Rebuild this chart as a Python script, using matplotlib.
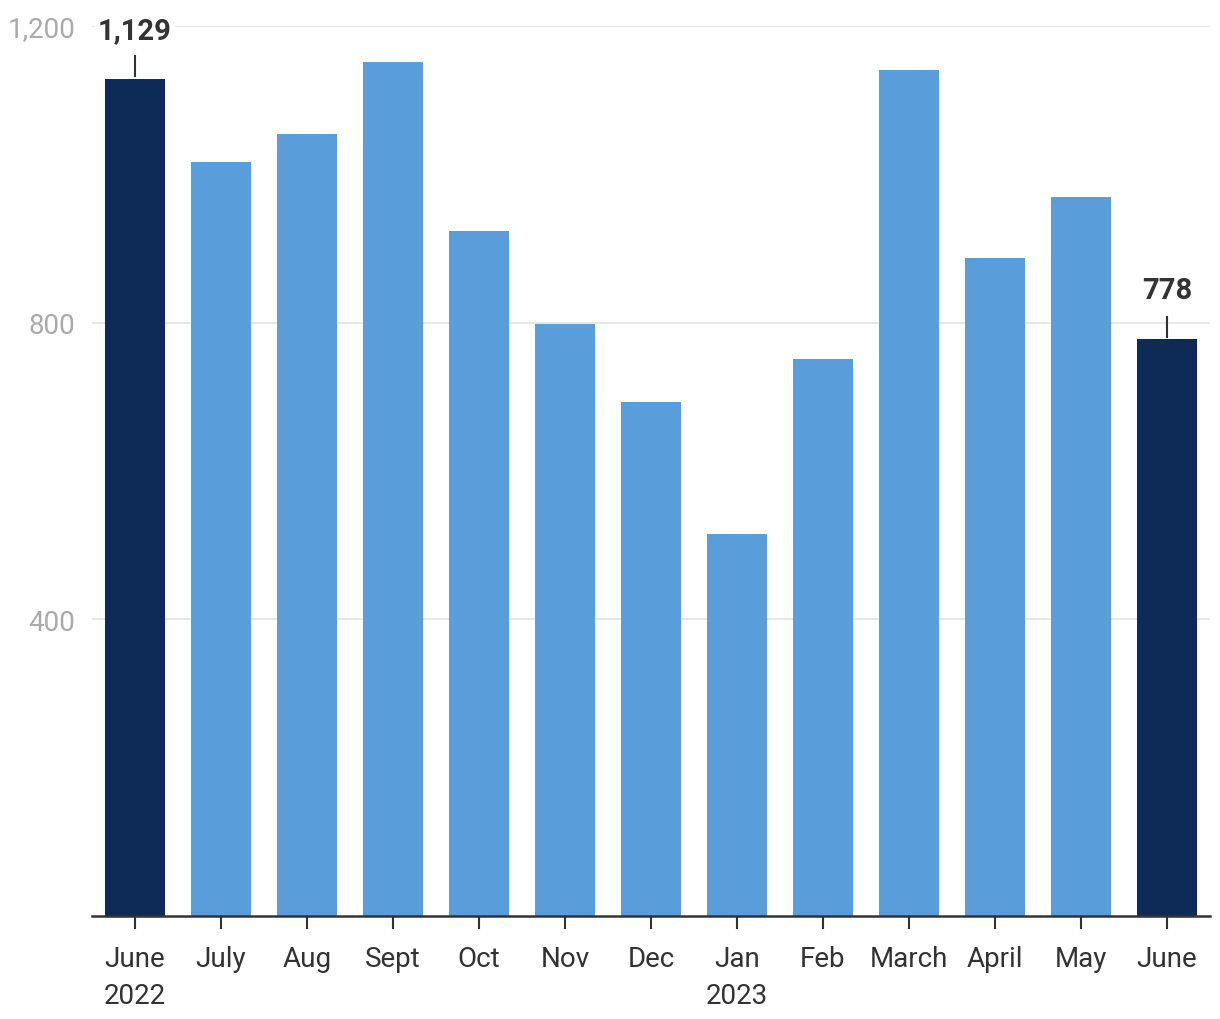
import matplotlib
matplotlib.use("Agg")
import matplotlib.pyplot as plt

plt.rcParams["font.family"] = ["Roboto", "DejaVu Sans"]

months = ["June\n2022", "July", "Aug", "Sept", "Oct", "Nov", "Dec",
          "Jan\n2023", "Feb", "March", "April", "May", "June"]
values = [1129, 1016, 1055, 1152, 923, 798, 693, 515, 751, 1141, 887, 969, 778]
highlight = [0, 12]

dark = "#0d2b56"
light = "#5a9ddb"

fig = plt.figure(figsize=(12.2, 10.2), dpi=100)
ax = fig.add_axes([0.0754, 0.101, 0.9164, 0.8725])

x = list(range(len(values)))
colors = [dark if i in highlight else light for i in x]
ax.bar(x, values, width=0.7, color=colors, zorder=2)

ax.set_xlim(-0.5, 12.5)
ax.set_ylim(0, 1200)
ax.set_yticks([400, 800, 1200])
ax.set_yticklabels(["400", "800", "1,200"])
ax.yaxis.grid(True, color="#e3e3e3", linewidth=1.2, zorder=0)
ax.set_axisbelow(True)

ax.set_xticks(x)
ax.set_xticklabels(months, fontsize=20, color="#333333", linespacing=1.45)
ax.tick_params(axis="x", length=9, width=1.5, color="#333333", pad=12)
ax.tick_params(axis="y", length=0, labelsize=20, labelcolor="#aaaaaa", pad=12)

for s in ["top", "right", "left"]:
    ax.spines[s].set_visible(False)
ax.spines["bottom"].set_color("#333333")
ax.spines["bottom"].set_linewidth(1.8)
ax.spines["bottom"].set_zorder(3)

for i in highlight:
    v = values[i]
    ax.plot([i, i], [v + 3, v + 30], color="#333333", linewidth=1.5,
            clip_on=False, zorder=3)
    ax.text(i, v + 66, f"{v:,}", ha="center", va="center", fontsize=21,
            fontweight="bold", color="#333333", zorder=4,
            bbox=dict(facecolor="white", edgecolor="none", pad=2))

fig.savefig("out.png", dpi=100)
